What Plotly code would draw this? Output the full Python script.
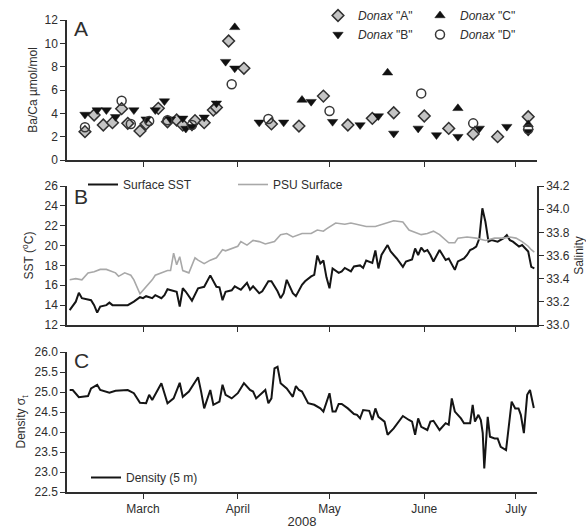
import plotly.graph_objects as go

# ---------------- Panel A : Ba/Ca (umol/mol) ----------------
donax_a_dates = ["2008-02-11", "2008-02-14", "2008-02-17", "2008-02-20", "2008-02-23", "2008-02-25",
                 "2008-02-29", "2008-03-02", "2008-03-06", "2008-03-09", "2008-03-12", "2008-03-14",
                 "2008-03-18", "2008-03-21", "2008-03-24", "2008-03-25", "2008-03-29", "2008-04-03",
                 "2008-04-12", "2008-04-21", "2008-04-29", "2008-05-07", "2008-05-15", "2008-05-22",
                 "2008-06-01", "2008-06-09", "2008-06-17", "2008-06-25", "2008-07-05"]
donax_a_vals = [2.43, 3.86, 3.0, 3.2, 4.4, 3.14,
                2.49, 3.1, 4.43, 3.28, 3.43, 3.0,
                3.37, 3.2, 4.28, 4.5, 10.2, 7.86,
                3.09, 2.91, 5.48, 3.0, 3.57, 4.05,
                3.77, 2.71, 2.23, 2.0, 3.71]

donax_b_dates = ["2008-02-11", "2008-02-15", "2008-02-18", "2008-02-21", "2008-02-27", "2008-03-02",
                 "2008-03-05", "2008-03-08", "2008-03-10", "2008-03-14", "2008-03-15", "2008-03-17",
                 "2008-03-21", "2008-03-25", "2008-03-28", "2008-03-31", "2008-04-08", "2008-04-16",
                 "2008-04-25", "2008-05-02", "2008-05-11", "2008-05-17", "2008-05-22", "2008-05-30",
                 "2008-06-05", "2008-06-12", "2008-06-19", "2008-06-28", "2008-07-05"]
donax_b_vals = [3.9, 4.28, 4.28, 3.7, 4.28, 3.5,
                4.28, 5.05, 3.5, 3.57, 2.7, 2.85,
                3.66, 4.86, 8.43, 7.86, 3.23, 3.23,
                5.0, 3.28, 3.0, 3.77, 2.28, 2.71,
                2.14, 2.0, 2.71, 2.86, 2.43]

donax_c_dates = ["2008-03-31", "2008-04-22", "2008-05-20", "2008-06-12", "2008-07-05"]
donax_c_vals = [11.37, 5.14, 7.48, 4.43, 3.05]

donax_d_dates = ["2008-02-11", "2008-02-23", "2008-02-26", "2008-03-03", "2008-03-09", "2008-03-17",
                 "2008-03-30", "2008-04-11", "2008-05-01", "2008-05-31", "2008-06-17", "2008-07-05"]
donax_d_vals = [2.8, 5.08, 3.09, 3.35, 3.4, 3.0,
                6.5, 3.51, 4.2, 5.71, 3.14, 2.63]

# ---------------- Panel B : SST and salinity ----------------
sst_dates = ["2008-02-06", "2008-02-08", "2008-02-09", "2008-02-10", "2008-02-13", "2008-02-14",
             "2008-02-15", "2008-02-16", "2008-02-18", "2008-02-19", "2008-02-20", "2008-02-25",
             "2008-02-27", "2008-02-29", "2008-03-01", "2008-03-02", "2008-03-04", "2008-03-05",
             "2008-03-07", "2008-03-08", "2008-03-09", "2008-03-11", "2008-03-12", "2008-03-13",
             "2008-03-14", "2008-03-15", "2008-03-17", "2008-03-19", "2008-03-21", "2008-03-23",
             "2008-03-25", "2008-03-26", "2008-03-27", "2008-03-28", "2008-03-30", "2008-03-31",
             "2008-04-02", "2008-04-04", "2008-04-05", "2008-04-06", "2008-04-08", "2008-04-09",
             "2008-04-11", "2008-04-12", "2008-04-14", "2008-04-15", "2008-04-16", "2008-04-17",
             "2008-04-19", "2008-04-20", "2008-04-22", "2008-04-23", "2008-04-25", "2008-04-26",
             "2008-04-27", "2008-04-28", "2008-04-29", "2008-04-30", "2008-05-01", "2008-05-02",
             "2008-05-04", "2008-05-05", "2008-05-06", "2008-05-08", "2008-05-09", "2008-05-11",
             "2008-05-12", "2008-05-13", "2008-05-15", "2008-05-16", "2008-05-17", "2008-05-18",
             "2008-05-20", "2008-05-21", "2008-05-23", "2008-05-25", "2008-05-26", "2008-05-28",
             "2008-05-29", "2008-05-30", "2008-05-31", "2008-06-01", "2008-06-02", "2008-06-03",
             "2008-06-04", "2008-06-06", "2008-06-08", "2008-06-09", "2008-06-11", "2008-06-12",
             "2008-06-14", "2008-06-15", "2008-06-16", "2008-06-17", "2008-06-18", "2008-06-19",
             "2008-06-20", "2008-06-21", "2008-06-22", "2008-06-23", "2008-06-25", "2008-06-27",
             "2008-06-28", "2008-06-29", "2008-06-30", "2008-07-02", "2008-07-03", "2008-07-05",
             "2008-07-06", "2008-07-07"]
sst_vals = [13.5, 14.35, 15.25, 14.7, 14.5, 14.0,
            13.25, 13.85, 14.0, 14.25, 14.0, 14.0,
            14.35, 14.8, 14.7, 14.9, 14.7, 15.0,
            14.7, 15.0, 15.6, 15.45, 15.35, 13.85,
            15.7, 15.35, 14.45, 15.7, 15.85, 17.0,
            15.85, 15.8, 14.5, 15.35, 15.5, 15.9,
            15.55, 16.25, 15.55, 15.9, 15.2, 15.4,
            16.4, 16.4, 15.4, 14.7, 15.2, 16.55,
            15.2, 14.9, 16.05, 16.4, 16.9, 17.05,
            19.0, 18.2, 18.5, 16.8, 15.7, 17.7,
            17.25, 17.4, 17.75, 17.4, 17.9, 18.0,
            17.75, 18.5, 18.25, 19.5, 17.7, 19.05,
            20.05, 19.4, 18.7, 17.85, 18.4, 18.6,
            19.7, 19.05, 19.8, 19.4, 19.55, 19.05,
            18.4, 19.55, 18.55, 18.7, 17.55, 18.4,
            18.7, 19.05, 19.55, 19.7, 19.9, 20.7,
            23.75, 22.4, 20.4, 20.55, 20.4, 20.75,
            21.05, 20.55, 20.4, 19.9, 20.05, 19.4,
            17.85, 17.7]

sal_dates = ["2008-02-06", "2008-02-08", "2008-02-10", "2008-02-12", "2008-02-14", "2008-02-16",
             "2008-02-18", "2008-02-21", "2008-02-22", "2008-02-24", "2008-02-26", "2008-02-27",
             "2008-02-29", "2008-03-02", "2008-03-04", "2008-03-05", "2008-03-07", "2008-03-09",
             "2008-03-10", "2008-03-11", "2008-03-12", "2008-03-13", "2008-03-14", "2008-03-16",
             "2008-03-18", "2008-03-19", "2008-03-21", "2008-03-23", "2008-03-25", "2008-03-27",
             "2008-03-28", "2008-03-30", "2008-04-01", "2008-04-02", "2008-04-04", "2008-04-06",
             "2008-04-08", "2008-04-10", "2008-04-13", "2008-04-15", "2008-04-17", "2008-04-19",
             "2008-04-21", "2008-04-22", "2008-04-25", "2008-04-27", "2008-04-29", "2008-04-30",
             "2008-05-03", "2008-05-06", "2008-05-08", "2008-05-10", "2008-05-13", "2008-05-16",
             "2008-05-20", "2008-05-22", "2008-05-25", "2008-05-27", "2008-05-31", "2008-06-02",
             "2008-06-04", "2008-06-06", "2008-06-09", "2008-06-11", "2008-06-12", "2008-06-15",
             "2008-06-18", "2008-06-21", "2008-06-24", "2008-06-27", "2008-06-29", "2008-07-01",
             "2008-07-03", "2008-07-05", "2008-07-06", "2008-07-07"]
sal_vals = [33.39, 33.40, 33.39, 33.45, 33.46, 33.48,
            33.48, 33.45, 33.42, 33.45, 33.43, 33.39,
            33.27, 33.33, 33.39, 33.43, 33.45, 33.47,
            33.47, 33.62, 33.52, 33.59, 33.47, 33.45,
            33.58, 33.56, 33.53, 33.56, 33.58, 33.65,
            33.64, 33.66, 33.68, 33.72, 33.69, 33.73,
            33.72, 33.70, 33.72, 33.78, 33.79, 33.76,
            33.78, 33.79, 33.79, 33.82, 33.81, 33.83,
            33.88, 33.87, 33.88, 33.87, 33.85, 33.85,
            33.88, 33.90, 33.89, 33.82, 33.78, 33.79,
            33.81, 33.78, 33.71, 33.71, 33.75, 33.76,
            33.75, 33.73, 33.75, 33.75, 33.76, 33.75,
            33.72, 33.68, 33.65, 33.63]

# ---------------- Panel C : density sigma-t (5 m) ----------------
dens_dates = ["2008-02-06", "2008-02-07", "2008-02-09", "2008-02-12", "2008-02-13", "2008-02-15",
              "2008-02-16", "2008-02-18", "2008-02-19", "2008-02-21", "2008-02-25", "2008-02-27",
              "2008-02-29", "2008-03-02", "2008-03-03", "2008-03-04", "2008-03-07", "2008-03-09",
              "2008-03-11", "2008-03-13", "2008-03-14", "2008-03-16", "2008-03-19", "2008-03-20",
              "2008-03-21", "2008-03-23", "2008-03-24", "2008-03-26", "2008-03-27", "2008-03-28",
              "2008-03-30", "2008-04-01", "2008-04-03", "2008-04-05", "2008-04-06", "2008-04-07",
              "2008-04-10", "2008-04-11", "2008-04-12", "2008-04-13", "2008-04-14", "2008-04-15",
              "2008-04-17", "2008-04-19", "2008-04-20", "2008-04-21", "2008-04-22", "2008-04-24",
              "2008-04-26", "2008-04-28", "2008-04-29", "2008-05-01", "2008-05-02", "2008-05-03",
              "2008-05-04", "2008-05-05", "2008-05-07", "2008-05-09", "2008-05-10", "2008-05-11",
              "2008-05-12", "2008-05-14", "2008-05-15", "2008-05-16", "2008-05-17", "2008-05-19",
              "2008-05-20", "2008-05-22", "2008-05-25", "2008-05-27", "2008-05-28", "2008-05-29",
              "2008-05-30", "2008-05-31", "2008-06-02", "2008-06-03", "2008-06-04", "2008-06-06",
              "2008-06-07", "2008-06-08", "2008-06-09", "2008-06-10", "2008-06-11", "2008-06-13",
              "2008-06-14", "2008-06-16 00:00", "2008-06-16 20:00", "2008-06-17 14:00",
              "2008-06-18 17:00", "2008-06-19 12:00", "2008-06-20 03:00", "2008-06-20 15:00",
              "2008-06-21 18:00", "2008-06-22 12:00", "2008-06-24", "2008-06-25", "2008-06-26",
              "2008-06-27 18:00", "2008-06-29 14:00", "2008-06-30 18:00", "2008-07-01 20:00",
              "2008-07-02 14:00", "2008-07-03 14:00", "2008-07-04 16:00", "2008-07-05 14:00",
              "2008-07-06 08:00", "2008-07-06 20:00"]
dens_vals = [25.05, 25.05, 24.87, 24.9, 25.09, 25.18,
             25.05, 25.01, 24.98, 25.03, 25.05, 24.97,
             24.73, 24.72, 24.93, 24.8, 25.22, 24.72,
             24.84, 25.23, 24.88, 25.01, 25.37, 25.01,
             24.59, 25.05, 24.68, 24.76, 25.18, 24.93,
             24.84, 24.97, 25.22, 25.05, 25.01, 24.84,
             25.05, 24.72, 24.84, 25.59, 25.63, 25.22,
             25.09, 24.88, 25.15, 25.05, 25.01, 24.72,
             24.68, 24.59, 24.51, 24.97, 24.51, 24.51,
             24.7, 24.7, 24.59, 24.45, 24.43, 24.34,
             24.55, 24.53, 24.3, 24.59, 24.38, 24.26,
             23.93, 24.09, 24.4, 24.3, 24.26, 23.93,
             24.34, 24.13, 24.05, 24.26, 24.28, 24.05,
             24.15, 24.22, 24.18, 24.84, 24.51, 24.34,
             24.22, 24.22, 24.68, 24.26,
             24.43, 24.3, 23.97, 23.09,
             24.38, 23.88, 23.84, 23.84, 23.63,
             23.55, 24.76, 24.59, 24.59,
             24.43, 23.97, 24.93, 25.05,
             24.76, 24.6]

month_ticks = ["2008-03-01", "2008-04-01", "2008-05-01", "2008-06-01", "2008-07-01"]
month_labels = ["March", "April", "May", "June", "July"]
x_range = ["2008-02-05 03:00", "2008-07-07 21:00"]

FONT = "Liberation Sans, Arial, sans-serif"
INK = "#2e2e2e"

fig = go.Figure()

# Panel A markers
fig.add_trace(go.Scatter(x=donax_a_dates, y=donax_a_vals, mode="markers", name="<i>Donax</i> \"A\"",
                         marker=dict(symbol="diamond", size=9, color="#c4c4c4", line=dict(color="#303030", width=1.5)),
                         xaxis="x", yaxis="y", legend="legend"))
fig.add_trace(go.Scatter(x=donax_b_dates, y=donax_b_vals, mode="markers", name="<i>Donax</i> \"B\"",
                         marker=dict(symbol="triangle-down", size=9, color="#111111", line=dict(color="#111111", width=0.5)),
                         xaxis="x", yaxis="y", legend="legend"))
fig.add_trace(go.Scatter(x=donax_c_dates, y=donax_c_vals, mode="markers", name="<i>Donax</i> \"C\"",
                         marker=dict(symbol="triangle-up", size=9, color="#111111", line=dict(color="#111111", width=0.5)),
                         xaxis="x", yaxis="y", legend="legend2"))
fig.add_trace(go.Scatter(x=donax_d_dates, y=donax_d_vals, mode="markers", name="<i>Donax</i> \"D\"",
                         marker=dict(symbol="circle-open", size=9, color="#383838", line=dict(width=1.5)),
                         xaxis="x", yaxis="y", legend="legend2"))

# Panel B lines
fig.add_trace(go.Scatter(x=sal_dates, y=sal_vals, mode="lines", name="PSU Surface",
                         line=dict(color="#a8a8a8", width=1.6), xaxis="x2", yaxis="y4", legend="legend3"))
fig.add_trace(go.Scatter(x=sst_dates, y=sst_vals, mode="lines", name="Surface SST",
                         line=dict(color="#151515", width=2), xaxis="x2", yaxis="y3", legend="legend3"))

# Panel C line
fig.add_trace(go.Scatter(x=dens_dates, y=dens_vals, mode="lines", name="Density (5 m)",
                         line=dict(color="#151515", width=2), xaxis="x3", yaxis="y5", legend="legend4"))

H, W = 532, 586
ML, MR, MT, MB = 67, 49, 20, 40
PH = H - MT - MB
PW = W - ML - MR


def vdom(top_px, bottom_px):
    return [(H - MB - bottom_px) / PH, (H - MB - top_px) / PH]


axis_common = dict(showline=True, linecolor=INK, linewidth=1.5, ticks="outside", ticklen=5,
                   tickwidth=1.2, tickcolor=INK, showgrid=False, zeroline=False, automargin=False,
                   tickfont=dict(family=FONT, size=12, color=INK))

xcommon = dict(axis_common, range=x_range, type="date", tickvals=month_ticks)
fig.update_layout(
    xaxis=dict(xcommon, anchor="y", domain=[0, 1], showticklabels=False),
    xaxis2=dict(xcommon, anchor="y3", domain=[0, 1], showticklabels=False),
    xaxis3=dict(xcommon, anchor="y5", domain=[0, 1], ticktext=month_labels,
                title=dict(text="2008", font=dict(family=FONT, size=13, color=INK), standoff=2)),
    yaxis=dict(axis_common, domain=vdom(20, 160), anchor="x", range=[0, 12], tickvals=[0, 2, 4, 6, 8, 10, 12],
               title=dict(text="Ba/Ca µmol/mol", font=dict(family=FONT, size=12, color=INK), standoff=4)),
    yaxis2=dict(axis_common, overlaying="y", side="right", anchor="x", range=[0, 12],
                tickvals=[0, 2, 4, 6, 8, 10, 12], ticks="inside", showticklabels=False),
    yaxis3=dict(axis_common, domain=vdom(186, 325), anchor="x2", range=[12, 26],
                tickvals=[12, 14, 16, 18, 20, 22, 24, 26],
                title=dict(text="SST (<sup>o</sup>C)", font=dict(family=FONT, size=12, color=INK), standoff=8)),
    yaxis4=dict(axis_common, overlaying="y3", side="right", anchor="x2", range=[33.0, 34.2],
                tickvals=[33.0, 33.2, 33.4, 33.6, 33.8, 34.0, 34.2], tickformat=".1f",
                title=dict(text="Salinity", font=dict(family=FONT, size=12, color=INK), standoff=8)),
    yaxis5=dict(axis_common, domain=vdom(352, 492), anchor="x3", range=[22.5, 26.0],
                tickvals=[22.5, 23.0, 23.5, 24.0, 24.5, 25.0, 25.5, 26.0], tickformat=".1f",
                title=dict(text="Density σ<sub>t</sub>", font=dict(family=FONT, size=12, color=INK), standoff=6)),
    yaxis6=dict(axis_common, overlaying="y5", side="right", anchor="x3", range=[22.5, 26.0],
                tickvals=[22.5, 23.0, 23.5, 24.0, 24.5, 25.0, 25.5, 26.0], ticks="inside",
                showticklabels=False),
)

leg_font = dict(family=FONT, size=12, color=INK)
fig.update_layout(
    legend=dict(x=(318 - ML) / PW, y=1 + 19 / PH, xanchor="left", yanchor="top",
                bgcolor="rgba(0,0,0,0)", font=leg_font, tracegroupgap=0),
    legend2=dict(x=(420 - ML) / PW, y=1 + 19 / PH, xanchor="left", yanchor="top",
                 bgcolor="rgba(0,0,0,0)", font=leg_font, tracegroupgap=0),
    legend3=dict(x=(83 - ML) / PW, y=(H - MB - 170) / PH, xanchor="left", yanchor="top",
                 orientation="h", entrywidth=105, traceorder="reversed",
                 bgcolor="rgba(0,0,0,0)", font=leg_font),
    legend4=dict(x=(86 - ML) / PW, y=(H - MB - 492) / PH, xanchor="left", yanchor="bottom",
                 bgcolor="rgba(0,0,0,0)", font=leg_font),
)

for letter, top_px in [("A", 15), ("B", 183), ("C", 347)]:
    fig.add_annotation(text=letter, x=(72 - ML) / PW, y=(H - MB - top_px) / PH,
                       xref="paper", yref="paper", xanchor="left", yanchor="top", showarrow=False,
                       font=dict(family=FONT, size=21, color=INK))

fig.update_layout(width=W, height=H, margin=dict(l=ML, r=MR, t=MT, b=MB, autoexpand=False),
                  paper_bgcolor="white", plot_bgcolor="white", font=dict(family=FONT, color=INK))

fig.write_html("out.html")
